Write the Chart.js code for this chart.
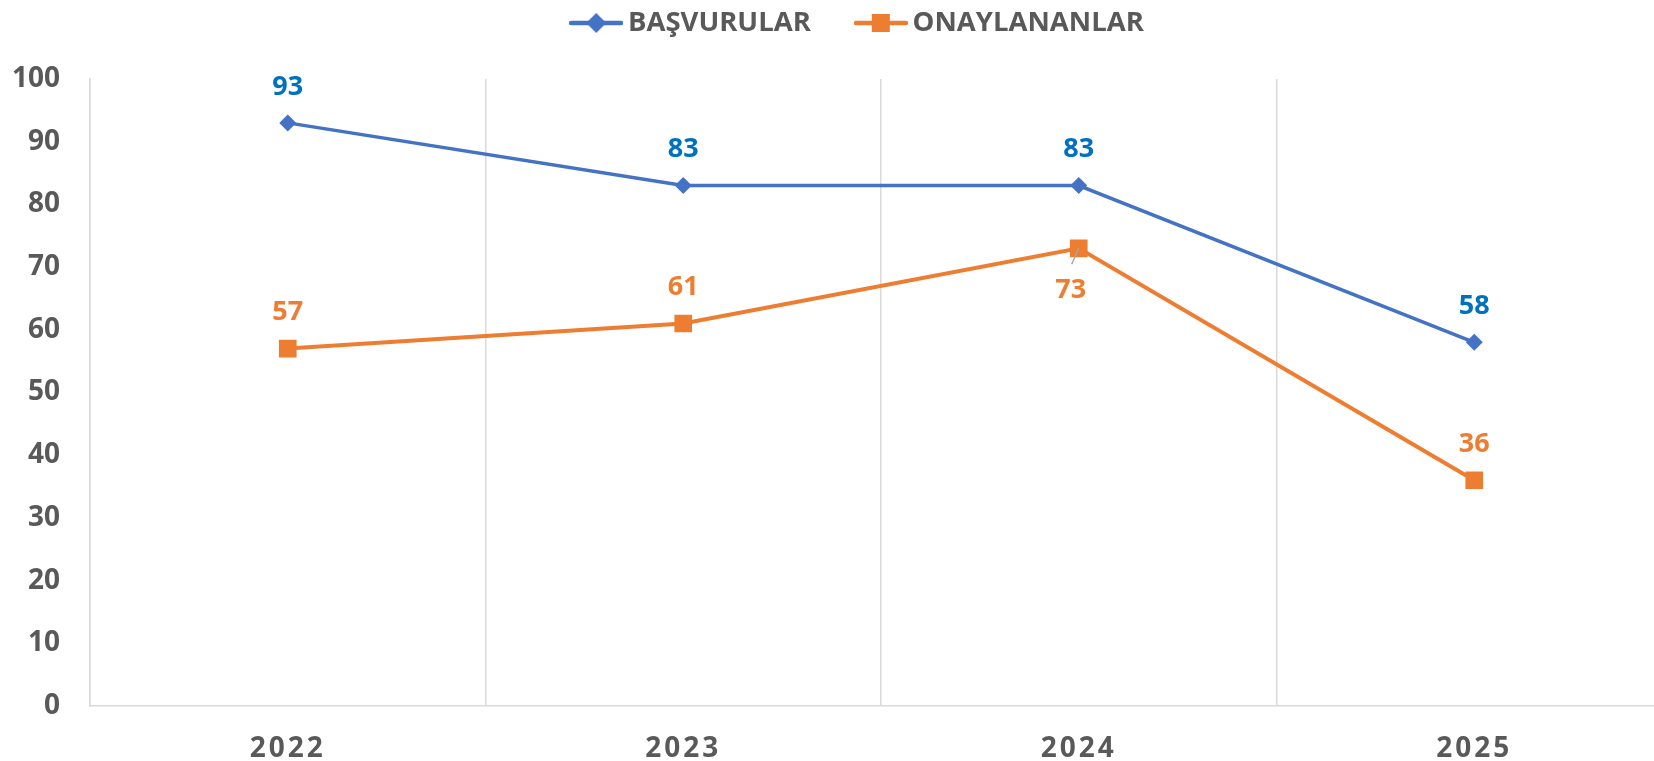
<!DOCTYPE html>
<html lang="tr">
<head>
    <meta charset="UTF-8">
    <title>Başvurular ve Onaylananlar</title>
    <script src="https://cdn.jsdelivr.net/npm/chart.js"></script>
    <style>
        html, body { margin: 0; padding: 0; overflow: hidden; background: #fff; }
        #wrap { width: 1672px; height: 761px; position: relative; }
    </style>
</head>
<body>
    <div id="wrap"><canvas id="lineChart" width="1672" height="761"></canvas></div>

    <script>
        // data
        const years = ['2022', '2023', '2024', '2025'];
        const basvurular = [93, 83, 83, 58];
        const onaylananlar = [57, 61, 73, 36];

        const BLUE = '#4472C4';
        const ORANGE = '#ED7D31';
        const LABEL_BLUE = '#0070C0';
        const GREY = '#595959';
        const FONT = "'Open Sans', sans-serif";
        const LEGEND_PAD = 52;
        const LEGEND_SIZE = 27.5;

        // legend markers: a short line with the point shape on it
        function legendMarker(color, shape) {
            const c = document.createElement('canvas');
            c.width = 54; c.height = 24;
            const g = c.getContext('2d');
            g.strokeStyle = color; g.fillStyle = color;
            g.lineWidth = 4.5; g.lineCap = 'round';
            g.beginPath(); g.moveTo(2, 12); g.lineTo(52, 12); g.stroke();
            g.beginPath();
            if (shape === 'diamond') {
                g.moveTo(27, 2); g.lineTo(37, 12); g.lineTo(27, 22); g.lineTo(17, 12);
            } else {
                g.rect(18, 3, 18, 18);
            }
            g.closePath(); g.fill();
            return c;
        }

        // value labels above (or below) the points, centred on the digits
        const valueLabels = {
            id: 'valueLabels',
            afterDatasetsDraw(chart) {
                const ctx = chart.ctx;
                const size = 27;
                ctx.save();
                ctx.font = "bold " + size + "px " + FONT;
                ctx.textAlign = 'center';
                ctx.textBaseline = 'alphabetic';
                chart.data.datasets.forEach((ds, i) => {
                    chart.getDatasetMeta(i).data.forEach((pt, j) => {
                        let x = pt.x, y = pt.y - 38;
                        if (i === 1 && j === 2) {
                            // 73 sits below its point with a small leader line
                            x = pt.x - 8; y = pt.y + 40;
                            ctx.strokeStyle = '#A6A6A6';
                            ctx.lineWidth = 1.5;
                            ctx.beginPath();
                            ctx.moveTo(pt.x, pt.y);
                            ctx.lineTo(pt.x - 7, pt.y + 16);
                            ctx.stroke();
                        }
                        ctx.fillStyle = ds.labelColor;
                        ctx.fillText(ds.data[j], x, y + size * 0.357);
                    });
                });
                ctx.restore();
            }
        };

        // spaced-out year labels, legend pulled up to the top
        const tweaks = {
            id: 'tweaks',
            afterLayout(chart) {
                const lg = chart.legend;
                lg.top = 23 - LEGEND_PAD - LEGEND_SIZE / 2;
                lg.bottom = 60;
                lg.left += 25;
                lg.right += 25;
            },
            beforeDraw(chart) {
                const xs = chart.scales.x;
                if (!xs._spaced) {
                    const orig = xs.drawLabels.bind(xs);
                    xs.drawLabels = function (area) {
                        this.ctx.save();
                        this.ctx.letterSpacing = '3px';
                        orig(area);
                        this.ctx.restore();
                    };
                    xs._spaced = true;
                }
            }
        };

        const ctx = document.getElementById('lineChart').getContext('2d');
        const lineChart = new Chart(ctx, {
            type: 'line',
            data: {
                labels: years,
                datasets: [{
                    label: 'BAŞVURULAR',
                    data: basvurular,
                    borderColor: BLUE,
                    backgroundColor: BLUE,
                    borderWidth: 3.5,
                    pointStyle: 'rectRot',
                    pointRadius: 8.5,
                    pointBorderWidth: 0,
                    labelColor: LABEL_BLUE,
                    legendMarker: legendMarker(BLUE, 'diamond')
                }, {
                    label: 'ONAYLANANLAR',
                    data: onaylananlar,
                    borderColor: ORANGE,
                    backgroundColor: ORANGE,
                    borderWidth: 4,
                    pointStyle: 'rect',
                    pointRadius: 12.5,
                    pointBorderWidth: 0,
                    labelColor: ORANGE,
                    legendMarker: legendMarker(ORANGE, 'square')
                }]
            },
            options: {
                responsive: false,
                animation: false,
                layout: { padding: 0, autoPadding: false },
                plugins: {
                    tooltip: { enabled: false },
                    legend: {
                        position: 'top',
                        maxHeight: 79,
                        labels: {
                            usePointStyle: true,
                            pointStyleWidth: 36,
                            padding: LEGEND_PAD,
                            color: GREY,
                            font: { family: FONT, size: LEGEND_SIZE, weight: 'bold' },
                            generateLabels(chart) {
                                return chart.data.datasets.map((ds, i) => ({
                                    text: ds.label,
                                    pointStyle: ds.legendMarker,
                                    fillStyle: ds.backgroundColor,
                                    strokeStyle: ds.borderColor,
                                    lineWidth: 0,
                                    fontColor: GREY,
                                    hidden: false,
                                    datasetIndex: i
                                }));
                            }
                        }
                    }
                },
                scales: {
                    x: {
                        offset: true,
                        grid: {
                            offset: true,
                            color: '#D9D9D9',
                            lineWidth: 1.5,
                            drawTicks: false
                        },
                        border: { color: '#D9D9D9', width: 1.5 },
                        ticks: {
                            color: GREY,
                            padding: 26,
                            font: { family: FONT, size: 28, weight: 'bold' }
                        },
                        afterFit(s) { s.height = 55; }
                    },
                    y: {
                        min: 0,
                        max: 100,
                        grid: { display: false, drawTicks: false },
                        border: { color: '#D9D9D9', width: 1.5 },
                        ticks: {
                            stepSize: 10,
                            color: GREY,
                            padding: 30,
                            font: { family: FONT, size: 28, weight: 'bold' }
                        },
                        afterFit(s) { s.width = 90; s.paddingTop = 79; }
                    }
                }
            },
            plugins: [valueLabels, tweaks]
        });
        lineChart.draw();
    </script>
</body>
</html>
